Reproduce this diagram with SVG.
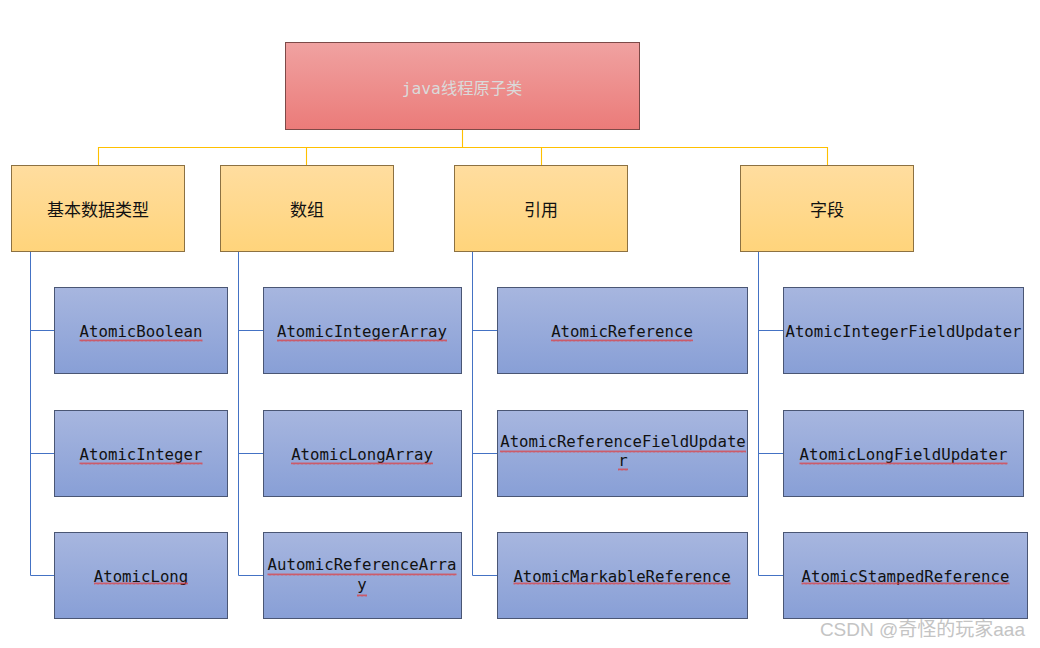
<svg xmlns="http://www.w3.org/2000/svg" width="1040" height="648" viewBox="0 0 1040 648">
<style>
.title{fill:url(#gRed);stroke:#7d4a48;stroke-width:1}
.cat{fill:url(#gYel);stroke:#8c7142;stroke-width:1}
.leaf{fill:url(#gBlue);stroke:#4a5674;stroke-width:1}
.ylw{fill:none;stroke:#ffc000;stroke-width:1.1}
.blu{fill:none;stroke:#4472c4;stroke-width:1}
.tt{font-family:"DejaVu Sans Mono","Noto Sans CJK SC",monospace;font-size:16.3px;fill:#dadada;text-anchor:middle}
.ct{font-family:"Noto Sans CJK SC","Noto Sans",sans-serif;font-size:17px;fill:#111;text-anchor:middle}
.lt{font-family:"DejaVu Sans Mono","Liberation Mono",monospace;font-size:15.7px;fill:#111;text-anchor:middle}
.wv{fill:url(#wavy)}
.wm{font-family:"Liberation Sans","Noto Sans CJK SC",sans-serif;font-size:19px;fill:#c4c4c4;text-anchor:end}
</style>
<defs>
<linearGradient id="gRed" x1="0" y1="0" x2="0" y2="1"><stop offset="0" stop-color="#f0a2a1"/><stop offset="1" stop-color="#eb7b79"/></linearGradient>
<linearGradient id="gYel" x1="0" y1="0" x2="0" y2="1"><stop offset="0" stop-color="#ffdd9f"/><stop offset="1" stop-color="#ffd47b"/></linearGradient>
<linearGradient id="gBlue" x1="0" y1="0" x2="0" y2="1"><stop offset="0" stop-color="#a7b6df"/><stop offset="1" stop-color="#889fd6"/></linearGradient>
<pattern id="wavy" width="4" height="3" patternUnits="userSpaceOnUse"><path d="M0 2.5 L1 0.5 L2 2.5 L3 0.5 L4 2.5" fill="none" stroke="#e23a3a" stroke-width="0.7"/></pattern>
</defs>
<rect width="1040" height="648" fill="#fff"/>

<g id="connectors">
<path class="ylw" d="M462.5 129 V147.5 M98.5 165 V147.5 H827.5 V165 M306.5 147.5 V165 M541.5 147.5 V165"/>
<path class="blu" d="M30.5 251 V575.5 H54 M30.5 330.5 H54 M30.5 453.5 H54"/>
<path class="blu" d="M238.5 251 V575.5 H263 M238.5 330.5 H263 M238.5 453.5 H263"/>
<path class="blu" d="M472.5 251 V575.5 H497 M472.5 330.5 H497 M472.5 453.5 H497"/>
<path class="blu" d="M758.5 251 V575.5 H783 M758.5 330.5 H783 M758.5 453.5 H783"/>
</g>

<g id="root"><rect class="title" x="285.5" y="42.5" width="354" height="87"/><text class="tt" x="462" y="94">java线程原子类</text></g>

<g id="cat-basic"><rect class="cat" x="11.5" y="165.5" width="173" height="86"/><text class="ct" x="98" y="216">基本数据类型</text></g>
<g id="cat-array"><rect class="cat" x="220.5" y="165.5" width="173" height="86"/><text class="ct" x="307" y="216">数组</text></g>
<g id="cat-ref"><rect class="cat" x="454.5" y="165.5" width="173" height="86"/><text class="ct" x="541" y="216">引用</text></g>
<g id="cat-field"><rect class="cat" x="740.5" y="165.5" width="173" height="86"/><text class="ct" x="827" y="216">字段</text></g>

<g id="AtomicBoolean"><rect class="leaf" x="54.5" y="287.5" width="173" height="86"/><text class="lt" x="141" y="337">AtomicBoolean</text><rect class="wv" x="79.5" y="339" width="123" height="3"/></g>
<g id="AtomicInteger"><rect class="leaf" x="54.5" y="410.5" width="173" height="86"/><text class="lt" x="141" y="459.5">AtomicInteger</text><rect class="wv" x="79.5" y="462" width="123" height="3"/></g>
<g id="AtomicLong"><rect class="leaf" x="54.5" y="532.5" width="173" height="86"/><text class="lt" x="141" y="581.5">AtomicLong</text><rect class="wv" x="94" y="582" width="94" height="3"/></g>

<g id="AtomicIntegerArray"><rect class="leaf" x="263.5" y="287.5" width="198" height="86"/><text class="lt" x="362" y="337">AtomicIntegerArray</text><rect class="wv" x="277" y="339" width="170" height="3"/></g>
<g id="AtomicLongArray"><rect class="leaf" x="263.5" y="410.5" width="198" height="86"/><text class="lt" x="362" y="459.5">AtomicLongArray</text><rect class="wv" x="291" y="462" width="142" height="3"/></g>
<g id="AutomicReferenceArray"><rect class="leaf" x="263.5" y="532.5" width="198" height="86"/><text class="lt" x="362" y="570">AutomicReferenceArra</text><text class="lt" x="362" y="590">y</text><rect class="wv" x="267.5" y="573" width="189" height="3"/><rect class="wv" x="357" y="594" width="10" height="3"/></g>

<g id="AtomicReference"><rect class="leaf" x="497.5" y="287.5" width="250" height="86"/><text class="lt" x="622" y="337">AtomicReference</text><rect class="wv" x="551" y="339" width="142" height="3"/></g>
<g id="AtomicReferenceFieldUpdater"><rect class="leaf" x="497.5" y="410.5" width="250" height="86"/><text class="lt" x="623" y="447">AtomicReferenceFieldUpdate</text><text class="lt" x="623" y="466">r</text><rect class="wv" x="500" y="450" width="246" height="3"/><rect class="wv" x="618" y="468" width="10" height="3"/></g>
<g id="AtomicMarkableReference"><rect class="leaf" x="497.5" y="532.5" width="250" height="86"/><text class="lt" x="622" y="581.5">AtomicMarkableReference</text><rect class="wv" x="513.5" y="582" width="217" height="3"/></g>

<g id="AtomicIntegerFieldUpdater"><rect class="leaf" x="783.5" y="287.5" width="240" height="86"/><text class="lt" x="903.5" y="337">AtomicIntegerFieldUpdater</text></g>
<g id="AtomicLongFieldUpdater"><rect class="leaf" x="783.5" y="410.5" width="240" height="86"/><text class="lt" x="903.5" y="459.5">AtomicLongFieldUpdater</text><rect class="wv" x="799.5" y="462" width="208" height="3"/></g>
<g id="AtomicStampedReference"><rect class="leaf" x="783.5" y="532.5" width="244" height="86"/><text class="lt" x="905.5" y="581.5">AtomicStampedReference</text><rect class="wv" x="801.5" y="582" width="208" height="3"/></g>

<text class="wm" x="1025" y="636">CSDN @奇怪的玩家aaa</text>
</svg>
